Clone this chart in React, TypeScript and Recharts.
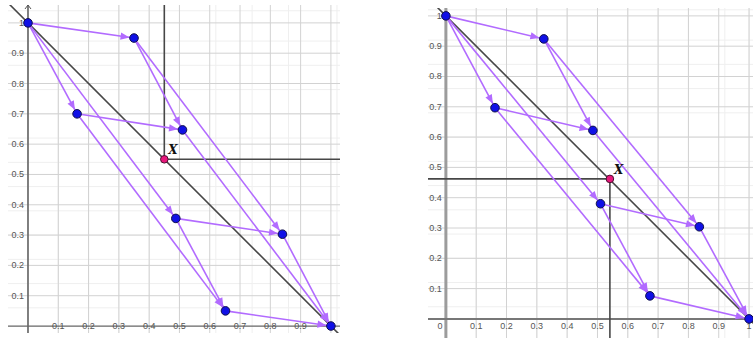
import React from 'react';
import { ComposedChart, Scatter, XAxis, YAxis, CartesianGrid, ReferenceLine, ReferenceDot } from 'recharts';

// cube corners: origin, +v, +w, +v+w, +u, +u+v, +u+w, +u+v+w
const leftVertices = [
  { x: 0, y: 1 }, { x: 0.35, y: 0.95 }, { x: 0.162, y: 0.7 }, { x: 0.51, y: 0.647 },
  { x: 0.488, y: 0.355 }, { x: 0.84, y: 0.303 }, { x: 0.652, y: 0.05 }, { x: 1, y: 0 },
];
const rightVertices = [
  { x: 0, y: 1 }, { x: 0.323, y: 0.924 }, { x: 0.162, y: 0.697 }, { x: 0.485, y: 0.622 },
  { x: 0.51, y: 0.38 }, { x: 0.836, y: 0.304 }, { x: 0.673, y: 0.076 }, { x: 1, y: 0 },
];
const cubeEdges = [
  [0, 1], [2, 3], [4, 5], [6, 7],
  [0, 2], [1, 3], [4, 6], [5, 7],
  [0, 4], [1, 5], [2, 6], [3, 7],
];
const leftX = { x: 0.45, y: 0.55 };
const rightX = { x: 0.541, y: 0.462 };

const leftXTicks = ['0.1', '0.2', '0.3', '0.4', '0.5', '0.6', '0.7', '0.8', '0.9'];
const leftYTicks = ['0.1', '0.2', '0.3', '0.4', '0.5', '0.6', '0.7', '0.8', '0.9', '1'];
const rightXTicks = ['0', '0.1', '0.2', '0.3', '0.4', '0.5', '0.6', '0.7', '0.8', '0.9', '1'];
const rightYTicks = ['0.1', '0.2', '0.3', '0.4', '0.5', '0.6', '0.7', '0.8', '0.9', '1'];

const PURPLE = '#b26bff';
const DARK = '#474747';
const FONT = '"Liberation Sans", Arial, sans-serif';

const gridVals = (lo: number, hi: number, step: number) => {
  const out: number[] = [];
  for (let i = Math.ceil(lo / step - 1e-9); i * step <= hi + 1e-9; i++) out.push(+(i * step).toFixed(3));
  return out;
};

const Arrow = (p: any) => {
  const { x1, y1, x2, y2 } = p;
  const dx = x2 - x1, dy = y2 - y1;
  const len = Math.hypot(dx, dy) || 1;
  const ux = dx / len, uy = dy / len;
  const tx = x2 - ux * 4.5, ty = y2 - uy * 4.5;
  const bx = tx - ux * 9, by = ty - uy * 9;
  const w = 3.6;
  return (
    <g>
      <line x1={x1} y1={y1} x2={x2} y2={y2} stroke={PURPLE} strokeWidth={1.6} />
      <polygon points={`${tx},${ty} ${bx - uy * w},${by + ux * w} ${bx + uy * w},${by - ux * w}`} fill={PURPLE} />
    </g>
  );
};

const AxisUp = (color: string, width: number, arrow: boolean) => (p: any) => {
  const { x1, y1, x2, y2 } = p;
  const top = Math.min(y1, y2);
  return (
    <g>
      <line x1={x1} y1={y1} x2={x2} y2={y2} stroke={color} strokeWidth={width} />
      {arrow && <polyline points={`${x1 - 3},${top + 4} ${x1},${top} ${x1 + 3},${top + 4}`} fill="none" stroke={color} strokeWidth={1} />}
    </g>
  );
};

const Vertex = (p: any) => (
  <circle cx={p.cx} cy={p.cy} r={4.3} fill="#1010e6" stroke="#10104a" strokeWidth={1} />
);

const XPoint = (p: any) => (
  <g>
    <circle cx={p.cx} cy={p.cy} r={3.8} fill="#e8177a" stroke="#4a1030" strokeWidth={1} />
    <text x={p.cx + 4} y={p.cy - 5} fontFamily="'DejaVu Serif', serif" fontStyle="italic" fontWeight="bold" fontSize={12} fill="#111">X</text>
  </g>
);

type PanelProps = {
  width: number; height: number; left: number; top: number;
  xDomain: [number, number]; yDomain: [number, number];
  vertices: { x: number; y: number }[];
  xp: { x: number; y: number };
  guideX: number; guideY: number;
  xTicks: string[]; yTicks: string[];
  xLabelDy: number; xLabelDx: number;
  yAxisColor: string; yAxisWidth: number; xAxisColor: string; xAxisWidth: number; axisArrow: boolean;
};

function Panel(props: PanelProps) {
  const { xDomain, yDomain, vertices, xp } = props;
  const xMinor = gridVals(xDomain[0], xDomain[1], 0.02);
  const yMinor = gridVals(yDomain[0], yDomain[1], 0.02);
  const xMajor = gridVals(xDomain[0], xDomain[1], 0.1);
  const yMajor = gridVals(yDomain[0], yDomain[1], 0.1);
  return (
    <div style={{ position: 'absolute', left: props.left, top: props.top }}>
      <ComposedChart width={props.width} height={props.height} margin={{ top: 0, right: 0, bottom: 0, left: 0 }}>
        <XAxis type="number" dataKey="x" domain={xDomain} allowDataOverflow hide />
        <YAxis type="number" dataKey="y" domain={yDomain} allowDataOverflow hide />
        <CartesianGrid stroke="#efefef" strokeWidth={1} verticalValues={xMinor} horizontalValues={yMinor} />
        <CartesianGrid stroke="#d2d2d2" strokeWidth={1} verticalValues={xMajor} horizontalValues={yMajor} />
        <ReferenceLine segment={[{ x: 0, y: yDomain[0] }, { x: 0, y: yDomain[1] }]} shape={AxisUp(props.yAxisColor, props.yAxisWidth, props.axisArrow)} />
        <ReferenceLine segment={[{ x: xDomain[0], y: 0 }, { x: xDomain[1], y: 0 }]} stroke={props.xAxisColor} strokeWidth={props.xAxisWidth} />
        {props.xTicks.map((t) => (
          <ReferenceDot key={'xt' + t} x={Number(t)} y={0} r={0}
            shape={(p: any) => (
              <text x={p.cx + (t === '0' ? props.xLabelDx : 0)} y={p.cy + props.xLabelDy} textAnchor="middle" dominantBaseline="central" fontFamily={FONT} fontSize={9} fill="#555">{t}</text>
            )} />
        ))}
        {props.yTicks.map((t) => (
          <ReferenceDot key={'yt' + t} x={0} y={Number(t)} r={0}
            shape={(p: any) => (
              <text x={p.cx - 4} y={p.cy} textAnchor="end" dominantBaseline="central" fontFamily={FONT} fontSize={9} fill="#555">{t}</text>
            )} />
        ))}
        <ReferenceLine segment={[{ x: -0.1, y: 1.1 }, { x: 1.1, y: -0.1 }]} ifOverflow="hidden" stroke={DARK} strokeWidth={1.6} />
        <ReferenceLine segment={[{ x: xp.x, y: xp.y }, { x: xp.x, y: props.guideY }]} stroke={DARK} strokeWidth={1.6} />
        <ReferenceLine segment={[{ x: xp.x, y: xp.y }, { x: props.guideX, y: xp.y }]} stroke={DARK} strokeWidth={1.6} />
        {cubeEdges.map(([a, b]) => (
          <ReferenceLine key={`e${a}${b}`} segment={[vertices[a], vertices[b]]} shape={Arrow} />
        ))}
        <Scatter data={vertices} shape={Vertex} isAnimationActive={false} />
        <Scatter data={[xp]} shape={XPoint} isAnimationActive={false} />
      </ComposedChart>
    </div>
  );
}

export default function App() {
  return (
    <div style={{ position: 'absolute', left: 0, top: 0, width: 753, height: 338, background: '#fff', overflow: 'hidden' }}>
      <Panel width={332} height={328} left={8} top={5}
        xDomain={[-0.066, 1.03]} yDomain={[-0.023, 1.059]}
        vertices={leftVertices} xp={leftX} guideX={1.03} guideY={1.059}
        xTicks={leftXTicks} yTicks={leftYTicks} xLabelDy={0} xLabelDx={0}
        yAxisColor="#555" yAxisWidth={1.4} xAxisColor="#666" xAxisWidth={1.2} axisArrow />
      <Panel width={325} height={330} left={428} top={8}
        xDomain={[-0.059, 1.013]} yDomain={[-0.063, 1.026]}
        vertices={rightVertices} xp={rightX} guideX={-0.059} guideY={-0.063}
        xTicks={rightXTicks} yTicks={rightYTicks} xLabelDy={7} xLabelDx={-6}
        yAxisColor="#9c9c9c" yAxisWidth={3} xAxisColor="#777" xAxisWidth={2} axisArrow={false} />
    </div>
  );
}
